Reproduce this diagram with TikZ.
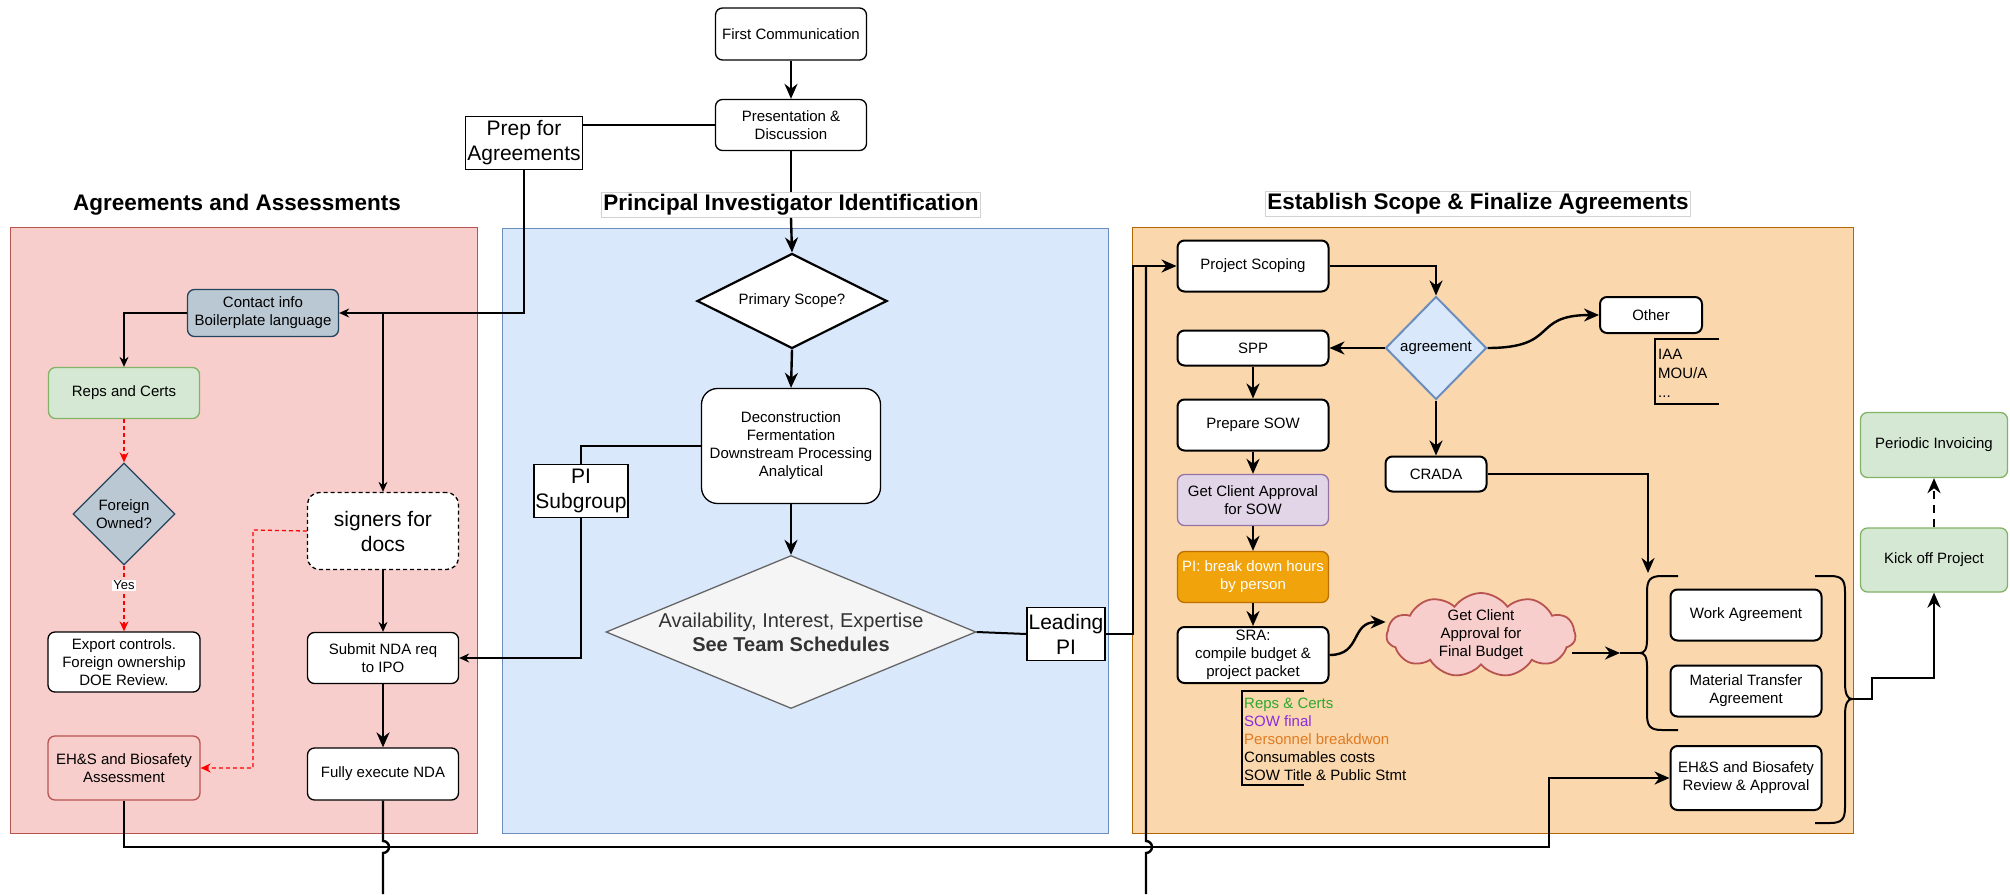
\documentclass[tikz,border=0pt]{standalone}
\usepackage{fontspec}
\setmainfont{Liberation Sans}
\usetikzlibrary{shapes.geometric,shapes.symbols,arrows.meta}
\definecolor{pinkfill}{HTML}{F8CECC}
\definecolor{pinkdraw}{HTML}{B85450}
\definecolor{bluefill}{HTML}{DAE8FC}
\definecolor{bluedraw}{HTML}{6C8EBF}
\definecolor{orfill}{HTML}{FAD7AC}
\definecolor{ordraw}{HTML}{B46504}
\definecolor{grayfill}{HTML}{BAC8D3}
\definecolor{graydraw}{HTML}{23445D}
\definecolor{greenfill}{HTML}{D5E8D4}
\definecolor{greendraw}{HTML}{82B366}
\definecolor{purpfill}{HTML}{E1D5E7}
\definecolor{purpdraw}{HTML}{9673A6}
\definecolor{orangefill}{HTML}{F0A30A}
\definecolor{orangedraw}{HTML}{BD7000}
\definecolor{ltgrayfill}{HTML}{F5F5F5}
\definecolor{dkgray}{HTML}{666666}
\definecolor{txtgray}{HTML}{333333}
\definecolor{listgreen}{HTML}{2EA82E}
\definecolor{listpurple}{HTML}{8B2BE2}
\definecolor{listorange}{HTML}{E07B22}
\newcommand{\fsA}{\fontsize{15}{18}\selectfont}
\newcommand{\fsB}{\fontsize{21}{25}\selectfont}
\newcommand{\fsT}{\fontsize{22.5}{26}\selectfont\bfseries}
\begin{document}
\begin{tikzpicture}[x=1pt,y=-1pt,
  box/.style={draw=black, line width=1.3pt, rounded corners=7pt, fill=white, align=center, inner sep=0pt, font=\fsA},
  rbox/.style={box, line width=2pt},
  sqbox/.style={draw=black, line width=1.3pt, fill=white, align=center, inner sep=0pt, font=\fsB},
  dia/.style={diamond, inner sep=0pt, align=center},
  lnthin/.style={line width=1.3pt, -{Stealth[length=10pt,width=9pt]}},
  lnthinl/.style={line width=1.3pt},
  lnthick/.style={line width=2.4pt, -{Stealth[length=15pt,width=13pt]}},
  lnthickl/.style={line width=2.4pt},
  reddash/.style={red, line width=1.3pt, dash pattern=on 4pt off 3pt, -{Stealth[length=10pt,width=9pt]}},
  panel/.style={line width=1pt},
  ttl/.style={font=\fsT, inner sep=2pt}]
\useasboundingbox (0,0) rectangle (2010,894);
\fill[white] (0,0) rectangle (2010,894);
% panels
\draw[panel, fill=pinkfill, draw=pinkdraw] (10,227) rectangle (477,833);
\draw[panel, fill=bluefill, draw=bluedraw] (502,228) rectangle (1108,833);
\draw[panel, fill=orfill, draw=ordraw] (1132,227) rectangle (1853,833);
% titles
\node[ttl] (t1) at (237,205) {Agreements and Assessments};
\node[ttl, fill=white, draw=gray!35, line width=0.8pt] (t2) at (791,205) {Principal Investigator Identification};
\node[ttl, fill=white, draw=gray!35, line width=0.8pt] (t3) at (1478,204) {Establish Scope \& Finalize Agreements};
% center column
\node[box, minimum width=151pt, minimum height=52pt] (first) at (791,34) {First Communication};
\node[box, minimum width=151pt, minimum height=51pt] (pres) at (791,125) {Presentation \&\\Discussion};
\node[sqbox, minimum width=117pt, minimum height=53pt] (prep) at (524,143) {Prep for\\Agreements};
\node[dia, draw=black, fill=white, line width=2.2pt, minimum width=190pt, minimum height=95pt,
  label={[font=\fsA]center:{Primary Scope?}}] (primary) at (792,301) {};
\node[box, rounded corners=16pt, minimum width=179pt, minimum height=115pt] (decon) at (791,446)
  {Deconstruction\\Fermentation\\Downstream Processing\\Analytical};
\node[sqbox, minimum width=94pt, minimum height=53pt] (pisub) at (581,491) {PI\\Subgroup};
\node[dia, draw=dkgray, fill=ltgrayfill, line width=1.3pt, minimum width=370pt, minimum height=153pt,
  label={[align=center, text=txtgray, font=\fontsize{20}{24}\selectfont]center:{Availability, Interest, Expertise\\\textbf{See Team Schedules}}}] (avail) at (791,632) {};
\node[sqbox, minimum width=78pt, minimum height=53pt] (leadpi) at (1066,634) {Leading\\PI};
% left column
\node[box, fill=grayfill, draw=graydraw, minimum width=151pt, minimum height=47pt] (contact) at (263,313) {Contact info\\Boilerplate language};
\node[box, fill=greenfill, draw=greendraw, minimum width=151pt, minimum height=51pt] (reps) at (124,393) {Reps and Certs};
\node[dia, draw=graydraw, fill=grayfill, line width=1.3pt, minimum width=102pt, minimum height=102pt,
  label={[align=center, font=\fsA]center:{Foreign\\Owned?}}] (foreign) at (124,514) {};
\node[box, minimum width=152pt, minimum height=60pt] (export) at (124,662) {Export controls.\\Foreign ownership\\DOE Review.};
\node[box, fill=pinkfill, draw=pinkdraw, minimum width=152pt, minimum height=64pt] (ehs1) at (124,768) {EH\&S and Biosafety\\Assessment};
\node[box, rounded corners=12pt, dash pattern=on 4pt off 3pt, font=\fsB, minimum width=151pt, minimum height=77pt] (signers) at (383,531) {signers for\\docs};
\node[box, minimum width=151pt, minimum height=51pt] (submit) at (383,658) {Submit NDA req\\to IPO};
\node[box, minimum width=151pt, minimum height=52pt] (fully) at (383,774) {Fully execute NDA};
% right panel
\node[rbox, minimum width=151pt, minimum height=51pt] (pscope) at (1253,266) {Project Scoping};
\node[dia, draw=bluedraw, fill=bluefill, line width=2pt, minimum width=101pt, minimum height=103pt,
  label={[font=\fsA]center:{agreement}}] (agree) at (1436,348) {};
\node[rbox, minimum width=151pt, minimum height=35pt] (spp) at (1253,348) {SPP};
\node[rbox, minimum width=102pt, minimum height=36pt] (other) at (1651,315) {Other};
\node[rbox, minimum width=101pt, minimum height=35pt] (crada) at (1436,474) {CRADA};
\node[rbox, minimum width=151pt, minimum height=51pt] (prepsow) at (1253,425) {Prepare SOW};
\node[box, fill=purpfill, draw=purpdraw, minimum width=151pt, minimum height=51pt] (getsow) at (1253,500) {Get Client Approval\\for SOW};
\node[box, fill=orangefill, draw=orangedraw, text=white, minimum width=151pt, minimum height=51pt] (pibreak) at (1253,577) {PI: break down hours\\by person};
\node[rbox, minimum width=151pt, minimum height=56pt] (sra) at (1253,655) {SRA:\\compile budget \&\\project packet};
\node[cloud, cloud puffs=11, cloud puff arc=110, aspect=2.25, draw=pinkdraw, fill=pinkfill, line width=1.8pt,
  minimum width=189pt, minimum height=84pt, inner sep=0pt,
  label={[align=center, font=\fsA]center:{Get Client\\Approval for\\Final Budget}}] (cloud) at (1481,635) {};
\node[rbox, minimum width=151pt, minimum height=51pt] (work) at (1746,615) {Work Agreement};
\node[rbox, minimum width=151pt, minimum height=51pt] (mta) at (1746,691) {Material Transfer\\Agreement};
\node[rbox, minimum width=151pt, minimum height=64pt] (ehs2) at (1746,778) {EH\&S and Biosafety\\Review \& Approval};
\node[box, fill=greenfill, draw=greendraw, minimum width=147pt, minimum height=64pt] (kick) at (1934,560) {Kick off Project};
\node[box, fill=greenfill, draw=greendraw, minimum width=147pt, minimum height=65pt] (invoice) at (1934,445) {Periodic Invoicing};
% annotation lists
\draw[line width=2pt] (1719,339) -- (1655,339) -- (1655,404) -- (1719,404);
\node[anchor=west, align=left, inner sep=0pt, font=\fontsize{15}{19}\selectfont] (iaa) at (1658,373) {IAA\\MOU/A\\...};
\draw[line width=2pt] (1304,691) -- (1242,691) -- (1242,785) -- (1304,785);
\node[anchor=west, align=left, inner sep=0pt, font=\fontsize{15}{18}\selectfont] (list) at (1244,739)
  {{\color{listgreen}Reps \& Certs}\\{\color{listpurple}SOW final}\\{\color{listorange}Personnel breakdwon}\\Consumables costs\\SOW Title \& Public Stmt};
% braces
\draw[line width=2pt] (1678,576) -- (1662,576) .. controls (1650,576) and (1647,580) .. (1647,592) -- (1647,640)
  .. controls (1647,650) and (1644,653) .. (1640,653) .. controls (1644,653) and (1647,656) .. (1647,666)
  -- (1647,714) .. controls (1647,726) and (1650,730) .. (1662,730) -- (1678,730);
\coordinate (braceL) at (1640,653);
\draw[line width=2pt] (1815,576) -- (1830,576) .. controls (1842,576) and (1845,580) .. (1845,592) -- (1845,683)
  .. controls (1845,695) and (1848,699) .. (1852,699) .. controls (1848,699) and (1845,703) .. (1845,715)
  -- (1845,807) .. controls (1845,819) and (1842,823) .. (1830,823) -- (1815,823);
\coordinate (braceR) at (1852,699);
% connectors center
\draw[lnthick] (first) -- (pres);
\draw[lnthinl] (pres.west) -- (pres.west -| prep.east);
\draw[lnthin] (prep.south) -- (prep.south |- contact.east) -- (contact.east);
\coordinate (jn) at (signers.north |- contact.east);
\draw[lnthin] (jn) -- (signers.north);
\draw[lnthickl] (pres.south) -- (t2.north);
\draw[lnthick] (t2.south) -- (primary.north);
\draw[lnthick] (primary.south) -- (decon.north);
\draw[lnthinl] (decon.west) -| (pisub.north);
\draw[lnthin] (pisub.south) |- (submit.east);
\draw[lnthick] (decon.south) -- (avail.north);
\draw[line width=2pt] (avail.east) -- (leadpi.west);
\draw[lnthick] (leadpi.east) -- (1133,634) -- (1133,266) -- (pscope.west);
% left connectors
\draw[lnthin] (contact.west) -| (reps.north);
\draw[reddash] (reps.south) -- (foreign.north);
\draw[reddash] (foreign.south) -- node[pos=0.3, fill=white, text=black, inner sep=1pt, font=\fontsize{13}{15}\selectfont] {Yes} (export.north);
\draw[reddash] (signers.west) -- (253,530) -- (253,768) -- (ehs1.east);
\draw[lnthin] (signers.south) -- (submit.north);
\draw[lnthick] (submit.south) -- (fully.north);
\coordinate (bot1) at (383,894);
\draw[lnthickl] (fully.south) -- (383,841) arc[start angle=-90, end angle=90, radius=6] -- (bot1);
\draw[lnthick] (ehs1.south) -- (124,847) -- (1549,847) -- (1549,778) -- (ehs2.west);
\coordinate (bot2) at (1146,894);
\draw[lnthickl] (bot2) -- (1146,853) arc[start angle=90, end angle=-90, radius=6] -- (1146,266);
% right connectors
\draw[lnthick] (pscope.east) -| (agree.north);
\draw[lnthick] (agree.west) -- (spp.east);
\draw[lnthick] (agree.east) .. controls (1560,348) and (1530,315) .. (other.west);
\draw[lnthick] (agree.south) -- (crada.north);
\coordinate (cradaend) at (1648,573);
\draw[lnthick] (crada.east) -- (1648,474) -- (cradaend);
\draw[lnthick] (spp.south) -- (prepsow.north);
\draw[lnthick] (prepsow.south) -- (getsow.north);
\draw[lnthick] (getsow.south) -- (pibreak.north);
\draw[lnthick] (pibreak.south) -- (sra.north);
\draw[lnthick] (sra.east) .. controls (1362,655) and (1350,622) .. ([yshift=13pt]cloud.west);
\coordinate (cloudtip) at (1620,653);
\draw[lnthick] ([xshift=-4pt]cloud.east |- braceL) -- (cloudtip);
\draw[lnthickl] (cloudtip) -- (braceL);
\draw[lnthick] (braceR) -- (1872,699) -- (1872,678) -| (kick.south);
\draw[lnthick, dash pattern=on 8pt off 6pt] (kick.north) -- (invoice.south);
\end{tikzpicture}
\end{document}
